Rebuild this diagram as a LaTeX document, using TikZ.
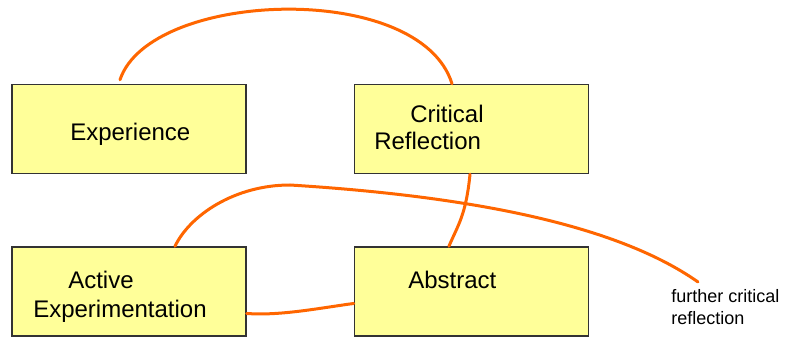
\documentclass[tikz,border=0pt]{standalone}
\usepackage{fontspec}
\setmainfont{Liberation Sans}
\usetikzlibrary{positioning}
\definecolor{boxfill}{HTML}{FFFF99}
\definecolor{loopline}{HTML}{FF6600}
\tikzset{
  box/.style={draw=black!80, line width=1.1pt, fill=boxfill, inner sep=0pt,
    minimum width=175.5pt, minimum height=66.75pt},
  boxtext/.style={anchor=base west, inner sep=0pt, font=\fontsize{18}{22}\selectfont},
  note/.style={anchor=base west, inner sep=0pt, align=left, font=\fontsize{13.5}{17}\selectfont},
  loop/.style={draw=loopline, line width=2.25pt, line cap=round, line join=round}
}

\begin{document}
\begin{tikzpicture}[x=0.75pt, y=-0.75pt]
    \useasboundingbox (0,0) rectangle (792,338);
    % set up the boxes
    \node[box] (exp) at (129,129) {};
    \node[box, right=80.25pt of exp] (crit) {};
    \node[box, below=54pt of exp] (act) {};
    \node[box, right=80.25pt of act] (abs) {};
    % text inside the boxes
    \node[boxtext] (expT) at (70,141) {Experience};
    \node[boxtext] (critT) at (410,123) {Critical};
    \node[boxtext] (reflT) at (374,150) {Reflection};
    \node[boxtext] (actT) at (68,288) {Active};
    \node[boxtext] (experT) at (33,317) {Experimentation};
    \node[boxtext] (absT) at (408,288) {Abstract};
    \node[note] (further) at (671,325) {further critical\\reflection};
    \coordinate (fend) at (698,282);
    % draw the loops between them
    \draw[loop] ([xshift=-6.75pt,yshift=3pt]exp.north) .. controls (150,-10) and (420,-20) .. ([xshift=-14.6pt]crit.north);
    \draw[loop] ([xshift=-1.1pt]crit.south) .. controls (466,215) and (458,225) .. ([xshift=-16.9pt]abs.north);
    \draw[loop] ([xshift=34.5pt]act.north) .. controls (190,215) and (235,185) .. (290,185)
        .. controls (450,195) and (610,220) .. (fend);
    \draw[loop] ([yshift=-16.5pt]act.east) .. controls (280,316) and (320,308) .. ([yshift=-9pt]abs.west);
\end{tikzpicture}
\end{document}
